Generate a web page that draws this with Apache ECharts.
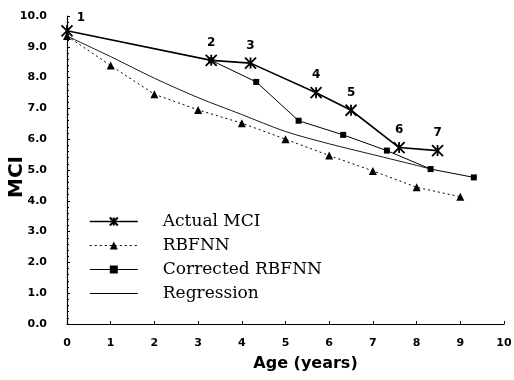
<!DOCTYPE html>
<html>
<head>
    <meta charset="utf-8">
    <title>MCI vs Age</title>
    <script src="https://cdn.jsdelivr.net/npm/echarts@6/dist/echarts.min.js"></script>
    <style>
        html, body { margin: 0; padding: 0; background: #fff; }
        #chart1 { width: 514px; height: 380px; }
    </style>
</head>
<body>
<div id="chart1"></div>
<script type="text/javascript">
    // values
    var actualAge = [0, 3.3, 4.2, 5.7, 6.5, 7.6, 8.48];
    var actualMci = [9.52, 8.56, 8.47, 7.51, 6.94, 5.73, 5.63];
    var pointNames = ['1', '2', '3', '4', '5', '6', '7'];

    var rbfAge = [0, 1, 2, 3, 4, 5, 6, 7, 8, 9];
    var rbfMci = [9.35, 8.39, 7.46, 6.95, 6.52, 6.0, 5.47, 4.97, 4.44, 4.13];

    var corrAge = [3.3, 4.33, 5.3, 6.32, 7.32, 8.32, 9.31];
    var corrMci = [8.56, 7.86, 6.6, 6.14, 5.63, 5.03, 4.76];

    var regAge = [0, 1, 2, 3, 4, 5, 6, 7, 8, 8.32];
    var regMci = [9.35, 8.68, 7.98, 7.35, 6.8, 6.25, 5.85, 5.5, 5.15, 5.03];

    function pairs(xs, ys) {
        return xs.map(function (x, i) { return [x, ys[i]]; });
    }

    var starPath = 'path://M0,0L10,10M10,0L0,10M5,0L5,10';

    var myChart1 = echarts.init(document.getElementById('chart1'));
    myChart1.setOption({
        animation: false,
        backgroundColor: '#fff',
        grid: { left: 67, right: 10, top: 16, bottom: 56, containLabel: false, outerBoundsMode: 'none' },
        legend: {
            orient: 'vertical',
            left: 84,
            top: 208,
            itemWidth: 48,
            itemHeight: 10,
            itemGap: 7,
            textStyle: {
                fontFamily: 'DejaVu Serif',
                fontSize: 17,
                color: '#000',
                padding: [0, 0, 0, 20]
            },
            data: [
                { name: 'Actual MCI', lineStyle: { width: 1.6 } },
                { name: 'RBFNN', lineStyle: { width: 1 } },
                { name: 'Corrected RBFNN', lineStyle: { width: 1.2 } },
                { name: 'Regression', lineStyle: { width: 1 }, itemStyle: { opacity: 0 } }
            ]
        },
        xAxis: {
            type: 'value',
            min: 0, max: 10, interval: 1,
            name: 'Age (years)',
            nameLocation: 'middle',
            nameGap: 32,
            nameTextStyle: { fontFamily: 'DejaVu Sans', fontWeight: 'bold', fontSize: 16, color: '#000', padding: [0, 0, 0, 40] },
            axisLine: { lineStyle: { color: '#000', width: 1.2 } },
            axisTick: { inside: true, length: 3, lineStyle: { color: '#000' } },
            axisLabel: { fontFamily: 'DejaVu Sans', fontWeight: 'bold', fontSize: 11, color: '#000', margin: 14 },
            splitLine: { show: false }
        },
        yAxis: {
            type: 'value',
            min: 0, max: 10, interval: 1,
            name: 'MCI',
            nameLocation: 'middle',
            nameGap: 40,
            nameMoveOverlap: false,
            nameTextStyle: { fontFamily: 'DejaVu Sans', fontWeight: 'bold', fontSize: 20, color: '#000', padding: [0, 14, 0, 0] },
            axisLine: { show: true, lineStyle: { color: '#000', width: 1.2 } },
            axisTick: { show: true, inside: true, length: 3, lineStyle: { color: '#000' } },
            minorTick: { show: true, splitNumber: 5, length: 2, lineStyle: { color: '#000' } },
            axisLabel: {
                fontFamily: 'DejaVu Sans', fontWeight: 'bold', fontSize: 11, color: '#000', margin: 20,
                formatter: function (v) { return v.toFixed(1); }
            },
            splitLine: { show: false }
        },
        series: [
            {
                name: 'Actual MCI',
                type: 'line',
                data: pairs(actualAge, actualMci),
                symbol: starPath,
                symbolSize: 11,
                lineStyle: { color: '#000', width: 1.6 },
                itemStyle: { color: '#000', borderColor: '#000', borderWidth: 1.8 },
                label: {
                    show: true,
                    position: 'top',
                    distance: 5,
                    fontFamily: 'DejaVu Sans', fontWeight: 'bold', fontSize: 12, color: '#000',
                    formatter: function (p) { return pointNames[p.dataIndex]; }
                },
                labelLayout: function (p) {
                    if (p.dataIndex === 0) { return { dx: 14, dy: 4 }; }
                    return {};
                },
                z: 5
            },
            {
                name: 'RBFNN',
                type: 'line',
                data: pairs(rbfAge, rbfMci),
                symbol: 'triangle',
                symbolSize: 8,
                showSymbol: true,
                lineStyle: { color: '#000', width: 1, type: [2, 3] },
                itemStyle: { color: '#000' }
            },
            {
                name: 'Corrected RBFNN',
                type: 'line',
                data: pairs(corrAge, corrMci),
                symbol: 'rect',
                symbolSize: 6,
                lineStyle: { color: '#000', width: 1 },
                itemStyle: { color: '#000' }
            },
            {
                name: 'Regression',
                type: 'line',
                data: pairs(regAge, regMci),
                smooth: 0.3,
                showSymbol: false,
                symbol: 'none',
                lineStyle: { color: '#000', width: 0.9 },
                itemStyle: { color: '#000' }
            }
        ]
    });
</script>
</body>
</html>
